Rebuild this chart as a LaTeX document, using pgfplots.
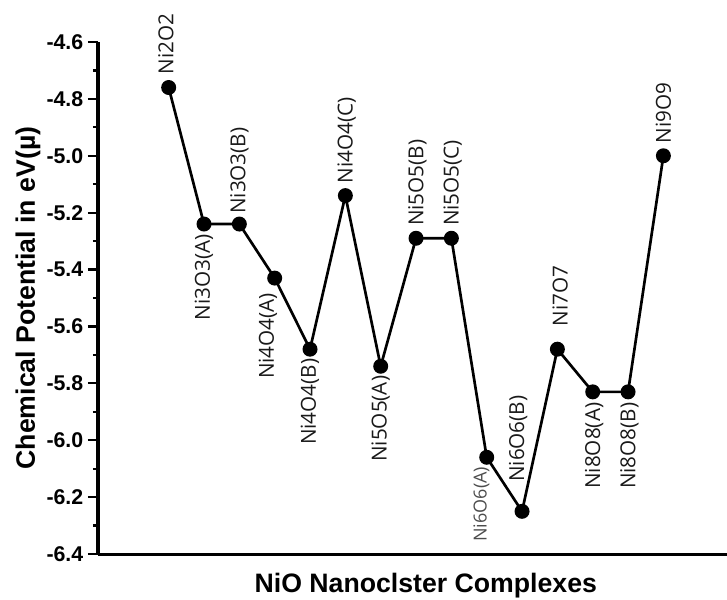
\documentclass[border=0pt]{standalone}
\usepackage{fontspec}
\setmainfont{Liberation Sans}
\newfontfamily\lab{Open Sans}
\usepackage{pgfplots}
\pgfplotsset{compat=1.18}
\begin{document}
\begin{tikzpicture}[
  up/.style={anchor=west, rotate=90, inner sep=0pt, font=\lab\fontsize{15.5}{18}\selectfont, text=black!90},
  dn/.style={anchor=east, rotate=90, inner sep=0pt, font=\lab\fontsize{15.5}{18}\selectfont, text=black!90}]
\begin{axis}[
  scale only axis,
  width=471.75pt, height=384pt,
  xmin=-2, xmax=15.8,
  ymin=-6.4, ymax=-4.6,
  axis x line*=bottom, axis y line*=left,
  axis line style={line width=2.25pt, -},
  xtick=\empty,
  ytick={-6.4,-6.2,...,-4.55},
  minor y tick num=1,
  tick align=outside,
  major tick length=7.5pt, minor tick length=3.75pt,
  every tick/.style={line width=1.6pt, black},
  yticklabel style={font=\bfseries\fontsize{16}{19}\selectfont, /pgf/number format/assume math mode=true,
    /pgf/number format/.cd, fixed, fixed zerofill, precision=1},
  ylabel={Chemical Potential in eV(\textmu)},
  xlabel={NiO Nanoclster Complexes},
  ylabel style={font=\bfseries\fontsize{20}{24}\selectfont, at={(axis description cs:-0.1113,0.5)}, anchor=center},
  xlabel style={font=\bfseries\fontsize{20}{24}\selectfont, at={(axis description cs:0.5,0)}, anchor=center, yshift=-24pt, xshift=10pt},
  clip=false,
]
\addplot[black, line width=2pt, mark=*, mark size=4.6pt, mark options={solid, fill=black}] coordinates {
  (0,-4.76) (1,-5.24) (2,-5.24) (3,-5.43) (4,-5.68) (5,-5.14) (6,-5.74)
  (7,-5.29) (8,-5.29) (9,-6.06) (10,-6.25) (11,-5.68) (12,-5.83) (13,-5.83) (14,-5.00)
};
\node[up] at ([xshift=-2pt,yshift=9.5pt]axis cs:0,-4.76) {Ni2O2};
\node[dn] at ([yshift=-7.5pt]axis cs:1,-5.24) {Ni3O3(A)};
\node[up] at ([yshift=7.5pt]axis cs:2,-5.24) {Ni3O3(B)};
\node[dn] at ([xshift=-5pt,yshift=-11pt]axis cs:3,-5.43) {Ni4O4(A)};
\node[dn] at ([yshift=-7pt]axis cs:4,-5.68) {Ni4O4(B)};
\node[up] at ([xshift=1pt,yshift=9pt]axis cs:5,-5.14) {Ni4O4(C)};
\node[dn] at ([yshift=-7pt]axis cs:6,-5.74) {Ni5O5(A)};
\node[up] at ([xshift=1pt,yshift=9pt]axis cs:7,-5.29) {Ni5O5(B)};
\node[up] at ([xshift=1pt,yshift=9pt]axis cs:8,-5.29) {Ni5O5(C)};
\node[dn, font=\lab\fontsize{13.5}{16}\selectfont, text=black!70] at ([xshift=-4pt,yshift=-7pt]axis cs:9,-6.06) {Ni6O6(A)};
\node[up] at ([xshift=-3pt,yshift=22pt]axis cs:10,-6.25) {Ni6O6(B)};
\node[up] at ([xshift=2pt,yshift=17pt]axis cs:11,-5.68) {Ni7O7};
\node[dn] at ([xshift=1pt,yshift=-8pt]axis cs:12,-5.83) {Ni8O8(A)};
\node[dn] at ([xshift=1pt,yshift=-8pt]axis cs:13,-5.83) {Ni8O8(B)};
\node[up] at ([yshift=9pt]axis cs:14,-5.00) {Ni9O9};
\coordinate (sw) at (rel axis cs:0,0);
\coordinate (ne) at (rel axis cs:1,1);
\end{axis}
\pgfresetboundingbox
\path[use as bounding box] ([shift={(-73.5pt,-33.75pt)}]sw) rectangle ([shift={(0pt,31.5pt)}]ne);
\end{tikzpicture}
\end{document}
